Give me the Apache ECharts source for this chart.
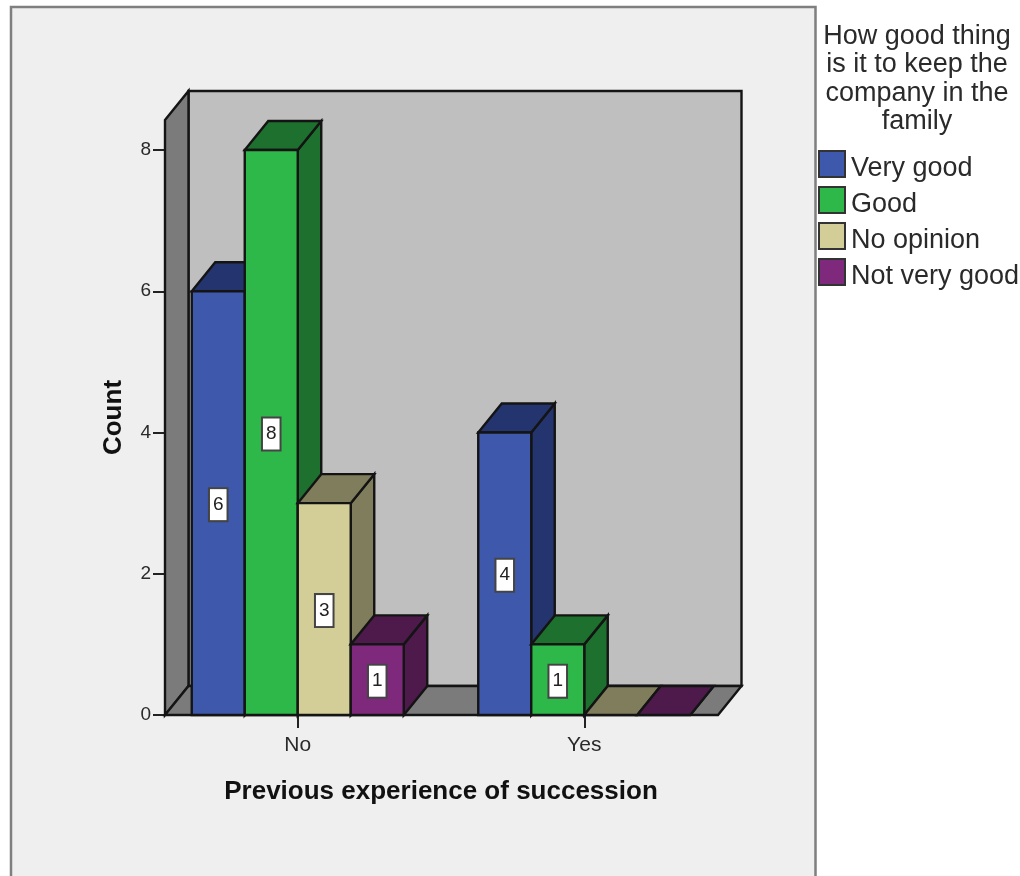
<!DOCTYPE html>
<html>
<head>
<meta charset="utf-8">
<style>html,body{margin:0;padding:0;background:#fff}#chart{width:1020px;height:876px}</style>
<script src="https://cdn.jsdelivr.net/npm/echarts@6/dist/echarts.min.js"></script>
</head>
<body>
<div id="chart"></div>
<script>
// Clustered 3-D style bar chart: count by previous experience of succession.
const categories = ['No', 'Yes'];
const seriesNames = ['Very good', 'Good', 'No opinion', 'Not very good'];
const veryGood = [6, 4];
const good = [8, 1];
const noOpinion = [3, 0];
const notVeryGood = [1, 0];
const seriesValues = [veryGood, good, noOpinion, notVeryGood];
const yTicks = [0, 2, 4, 6, 8];

const frontColors = ['#3e58ab', '#2eb84a', '#d3ce97', '#7f297c'];
const shadeColors = ['#24346e', '#1d702d', '#807d5c', '#4e1a4c'];

const FONT = '"Liberation Sans", Arial, sans-serif';
const DEPTH_X = 23.5, DEPTH_Y = -29;
const BAR_RATIO = 53 / 286.5;
const LEFT_INSET = 10.5, RIGHT_INSET = 9.5;  // floor edge sits inside the band-based grid
const Y_MAX = 8.425;
const STROKE = { stroke: '#141414', lineWidth: 2.4, lineJoin: 'miter' };

function poly(points, fill, z2) {
  return { type: 'polygon', z2, shape: { points }, style: Object.assign({ fill }, STROKE) };
}

// Walls and floor of the box behind the bars.
function renderBox(params, api) {
  const cs = params.coordSys;
  const x0 = cs.x + LEFT_INSET, x1 = cs.x + cs.width - RIGHT_INSET;
  const yb = api.coord([0, 0])[1], yt = api.coord([0, Y_MAX])[1];
  const d = (p) => [p[0] + DEPTH_X, p[1] + DEPTH_Y];
  const wall = '#7b7b7b';
  return { type: 'group', children: [
    poly([d([x0, yt]), d([x1, yt]), d([x1, yb]), d([x0, yb])], '#bfbfbf', 1),
    poly([[x0, yt], d([x0, yt]), d([x0, yb]), [x0, yb]], wall, 2),
    poly([[x0, yb], d([x0, yb]), d([x1, yb]), [x1, yb]], wall, 2)
  ] };
}

function barRenderer(idx) {
  return function (params, api) {
    const band = api.size([1, 0])[0];
    const w = band * BAR_RATIO;
    const cat = api.value(0), val = api.value(1);
    const base = api.coord([cat, 0]), top = api.coord([cat, val]);
    const l = base[0] + (idx - 2) * w, r = l + w;
    const yb = base[1], yt = top[1];
    const dx = DEPTH_X, dy = DEPTH_Y;
    const children = [];
    children.push(poly([[r, yt], [r + dx, yt + dy], [r + dx, yb + dy], [r, yb]], shadeColors[idx], 1));
    children.push(poly([[l, yt], [l + dx, yt + dy], [r + dx, yt + dy], [r, yt]], shadeColors[idx], 2));
    if (val > 0) {
      children.push({ type: 'rect', z2: 3, shape: { x: l, y: yt, width: w, height: yb - yt },
        style: Object.assign({ fill: frontColors[idx] }, STROKE) });
      children.push({ type: 'text', z2: 4, x: (l + r) / 2, y: (yt + yb) / 2 + 1.5,
        style: { text: String(val), fill: '#222', font: '19px ' + FONT, align: 'center', verticalAlign: 'middle',
          backgroundColor: '#fff', borderColor: '#444', borderWidth: 2, padding: [7, 3, 5, 3] } });
    }
    return { type: 'group', children };
  };
}

const barSeries = seriesNames.map((name, i) => ({
  name,
  type: 'custom',
  renderItem: barRenderer(i),
  encode: { x: 0, y: 1 },
  data: categories.map((_, c) => [c, seriesValues[i][c]]),
  itemStyle: { color: frontColors[i], borderColor: '#333', borderWidth: 2 },
  clip: false,
  z: 3 + i
}));

const chart = echarts.init(document.getElementById('chart'), null, { renderer: 'canvas' });
chart.setOption({
  animation: false,
  backgroundColor: '#ffffff',
  textStyle: { fontFamily: FONT },
  graphic: [{
    type: 'rect', z: -10, shape: { x: 11, y: 7, width: 804.5, height: 880 },
    style: { fill: '#efefef', stroke: '#7f7f7f', lineWidth: 2.5 }
  }],
  title: {
    text: 'How good thing\nis it to keep the\ncompany in the\nfamily',
    left: 912, top: 17, textAlign: 'center',
    textStyle: { fontSize: 27, fontWeight: 'normal', lineHeight: 28.5, color: '#2a2a2a', fontFamily: FONT }
  },
  legend: {
    data: seriesNames, orient: 'vertical', left: 818, top: 150,
    itemWidth: 26, itemHeight: 26, itemGap: 3.5, icon: 'rect',
    padding: 0,
    formatter: (name) => '{t|' + name + '}',
    textStyle: {
      rich: { t: { fontSize: 27, color: '#2a2a2a', fontFamily: FONT, padding: [10, 0, 0, 1] } }
    }
  },
  grid: { left: 154.5, top: 120, width: 573, height: 595, containLabel: false },
  xAxis: {
    type: 'category', data: categories,
    name: 'Previous experience of succession', nameLocation: 'middle', nameGap: 64,
    nameTextStyle: { fontSize: 26, fontWeight: 'bold', color: '#111', fontFamily: FONT },
    axisLine: { show: false },
    axisTick: { show: true, alignWithLabel: true, length: 13, lineStyle: { color: '#222', width: 2 } },
    axisLabel: { fontSize: 21, color: '#2a2a2a', margin: 20, fontFamily: FONT }
  },
  yAxis: {
    type: 'value', min: 0, max: Y_MAX, interval: 2, offset: -10.5,
    name: 'Count', nameLocation: 'middle', nameGap: 38, nameRotate: 90,
    nameTextStyle: { fontSize: 26, fontWeight: 'bold', color: '#111', fontFamily: FONT },
    splitLine: { show: false },
    axisLine: { show: false },
    axisTick: { show: true, length: 12, customValues: yTicks, lineStyle: { color: '#222', width: 2 } },
    axisLabel: { fontSize: 19, color: '#2a2a2a', margin: 14, fontFamily: FONT,
      customValues: yTicks, formatter: (v) => String(v) }
  },
  series: [{
    name: 'box', type: 'custom', renderItem: renderBox, encode: { x: 0, y: 1 },
    data: [[0, 0]], silent: true, clip: false, z: 1
  }].concat(barSeries)
});
</script>
</body>
</html>
